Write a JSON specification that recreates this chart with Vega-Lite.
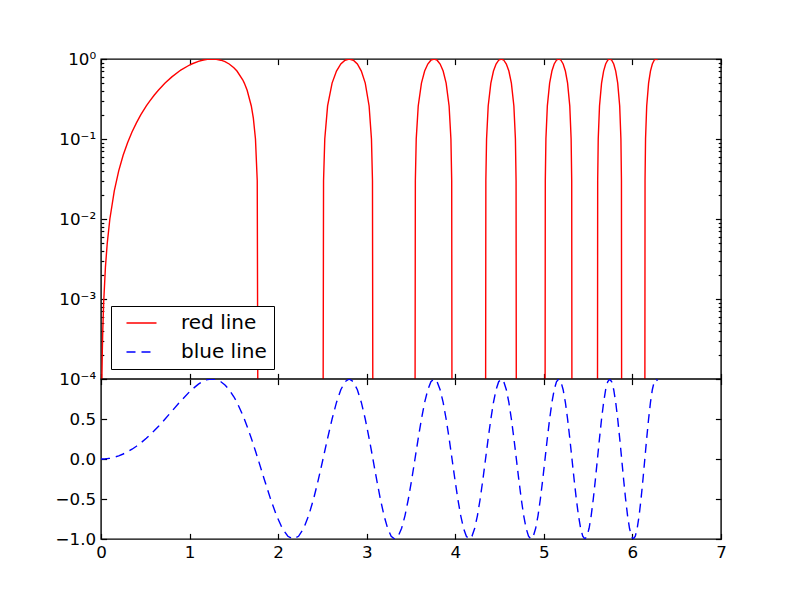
{
  "$schema": "https://vega.github.io/schema/vega-lite/v6.json",
  "background": "white",
  "padding": {"left": 54, "top": 50, "right": 10, "bottom": 10},
  "bounds": "flush",
  "spacing": 0,
  "config": {
    "view": {"stroke": "black", "strokeWidth": 1.4, "fill": "white"},
    "axis": {"domain": false, "grid": false, "tickColor": "black", "tickWidth": 1.2, "tickSize": -5.6, "labelFont": "DejaVu Sans", "labelFontSize": 16.7, "labelColor": "black", "labelPadding": 11, "labelOverlap": false, "labelFlush": false}
  },
  "datasets": {
    "w": [
      {"x": 0, "y": 0}, {"x": 0.005, "y": 0.000025}, {"x": 0.01, "y": 0.0001}, {"x": 0.015, "y": 0.000225}, {"x": 0.02, "y": 0.0004}, {"x": 0.03, "y": 0.0009}, {"x": 0.05, "y": 0.0025}, {"x": 0.07, "y": 0.0049}, {"x": 0.1, "y": 0.01}, {"x": 0.15, "y": 0.0225}, {"x": 0.2, "y": 0.04}, {"x": 0.25, "y": 0.0625}, {"x": 0.3, "y": 0.0899}, {"x": 0.35, "y": 0.1222}, {"x": 0.4, "y": 0.1593}, {"x": 0.45, "y": 0.2011},
      {"x": 0.5117, "y": 0.2588}, {"x": 0.55, "y": 0.2979}, {"x": 0.6, "y": 0.3523}, {"x": 0.65, "y": 0.4101}, {"x": 0.7, "y": 0.4706}, {"x": 0.7236, "y": 0.5}, {"x": 0.8, "y": 0.5972}, {"x": 0.8862, "y": 0.7071}, {"x": 0.9, "y": 0.7243}, {"x": 1.0, "y": 0.8415}, {"x": 1.0233, "y": 0.866}, {"x": 1.1, "y": 0.9356}, {"x": 1.1441, "y": 0.9659}, {"x": 1.2, "y": 0.9915}, {"x": 1.2533, "y": 1}, {"x": 1.3, "y": 0.9929}, {"x": 1.3537, "y": 0.9659}, {"x": 1.4, "y": 0.9252}, {"x": 1.4472, "y": 0.866}, {"x": 1.5, "y": 0.7781}, {"x": 1.535, "y": 0.7071}, {"x": 1.6, "y": 0.5494}, {"x": 1.618, "y": 0.5}, {"x": 1.65, "y": 0.4069}, {"x": 1.697, "y": 0.2588}, {"x": 1.72, "y": 0.1822}, {"x": 1.744, "y": 0.1}, {"x": 1.764, "y": 0.03}, {"x": 1.7725, "y": 0.00001},
      {"x": 1.8448, "y": -0.2588}, {"x": 1.9145, "y": -0.5}, {"x": 1.9817, "y": -0.7071}, {"x": 2.0467, "y": -0.866}, {"x": 2.1096, "y": -0.9659}, {"x": 2.1708, "y": -1}, {"x": 2.2303, "y": -0.9659}, {"x": 2.2882, "y": -0.866}, {"x": 2.3447, "y": -0.7071}, {"x": 2.3999, "y": -0.5}, {"x": 2.4538, "y": -0.2588},
      {"x": 2.5066, "y": 0.00001}, {"x": 2.5126, "y": 0.03}, {"x": 2.5265, "y": 0.1}, {"x": 2.5583, "y": 0.2588}, {"x": 2.609, "y": 0.5}, {"x": 2.6587, "y": 0.7071}, {"x": 2.7075, "y": 0.866}, {"x": 2.7554, "y": 0.9659}, {"x": 2.8025, "y": 1}, {"x": 2.8488, "y": 0.9659}, {"x": 2.8944, "y": 0.866}, {"x": 2.9393, "y": 0.7071}, {"x": 2.9835, "y": 0.5}, {"x": 3.027, "y": 0.2588}, {"x": 3.0536, "y": 0.1}, {"x": 3.0651, "y": 0.03}, {"x": 3.07, "y": 0.00001},
      {"x": 3.1123, "y": -0.2588}, {"x": 3.1541, "y": -0.5}, {"x": 3.1953, "y": -0.7071}, {"x": 3.236, "y": -0.866}, {"x": 3.2762, "y": -0.9659}, {"x": 3.316, "y": -1}, {"x": 3.3552, "y": -0.9659}, {"x": 3.394, "y": -0.866}, {"x": 3.4323, "y": -0.7071}, {"x": 3.4703, "y": -0.5}, {"x": 3.5078, "y": -0.2588},
      {"x": 3.5449, "y": 0.00001}, {"x": 3.5491, "y": 0.03}, {"x": 3.559, "y": 0.1}, {"x": 3.5816, "y": 0.2588}, {"x": 3.618, "y": 0.5}, {"x": 3.654, "y": 0.7071}, {"x": 3.6897, "y": 0.866}, {"x": 3.725, "y": 0.9659}, {"x": 3.76, "y": 1}, {"x": 3.7946, "y": 0.9659}, {"x": 3.8289, "y": 0.866}, {"x": 3.863, "y": 0.7071}, {"x": 3.8967, "y": 0.5}, {"x": 3.9302, "y": 0.2588}, {"x": 3.9507, "y": 0.1}, {"x": 3.9595, "y": 0.03}, {"x": 3.9633, "y": 0.00001},
      {"x": 3.9962, "y": -0.2588}, {"x": 4.0288, "y": -0.5}, {"x": 4.0612, "y": -0.7071}, {"x": 4.0933, "y": -0.866}, {"x": 4.1252, "y": -0.9659}, {"x": 4.1568, "y": -1}, {"x": 4.1881, "y": -0.9659}, {"x": 4.2193, "y": -0.866}, {"x": 4.2502, "y": -0.7071}, {"x": 4.2809, "y": -0.5}, {"x": 4.3113, "y": -0.2588},
      {"x": 4.3416, "y": 0.00001}, {"x": 4.3451, "y": 0.03}, {"x": 4.3531, "y": 0.1}, {"x": 4.3716, "y": 0.2588}, {"x": 4.4015, "y": 0.5}, {"x": 4.4311, "y": 0.7071}, {"x": 4.4605, "y": 0.866}, {"x": 4.4898, "y": 0.9659}, {"x": 4.5189, "y": 1}, {"x": 4.5477, "y": 0.9659}, {"x": 4.5764, "y": 0.866}, {"x": 4.605, "y": 0.7071}, {"x": 4.6333, "y": 0.5}, {"x": 4.6615, "y": 0.2588}, {"x": 4.6788, "y": 0.1}, {"x": 4.6863, "y": 0.03}, {"x": 4.6895, "y": 0.00001},
      {"x": 4.7173, "y": -0.2588}, {"x": 4.7449, "y": -0.5}, {"x": 4.7724, "y": -0.7071}, {"x": 4.7998, "y": -0.866}, {"x": 4.827, "y": -0.9659}, {"x": 4.854, "y": -1}, {"x": 4.8809, "y": -0.9659}, {"x": 4.9076, "y": -0.866}, {"x": 4.9342, "y": -0.7071}, {"x": 4.9607, "y": -0.5}, {"x": 4.987, "y": -0.2588},
      {"x": 5.0133, "y": 0.00001}, {"x": 5.0163, "y": 0.03}, {"x": 5.0232, "y": 0.1}, {"x": 5.0393, "y": 0.2588}, {"x": 5.0652, "y": 0.5}, {"x": 5.091, "y": 0.7071}, {"x": 5.1166, "y": 0.866}, {"x": 5.1422, "y": 0.9659}, {"x": 5.1675, "y": 1}, {"x": 5.1928, "y": 0.9659}, {"x": 5.2179, "y": 0.866}, {"x": 5.243, "y": 0.7071}, {"x": 5.2679, "y": 0.5}, {"x": 5.2927, "y": 0.2588}, {"x": 5.3079, "y": 0.1}, {"x": 5.3145, "y": 0.03}, {"x": 5.3174, "y": 0.00001},
      {"x": 5.3419, "y": -0.2588}, {"x": 5.3664, "y": -0.5}, {"x": 5.3907, "y": -0.7071}, {"x": 5.415, "y": -0.866}, {"x": 5.4391, "y": -0.9659}, {"x": 5.4631, "y": -1}, {"x": 5.487, "y": -0.9659}, {"x": 5.5108, "y": -0.866}, {"x": 5.5345, "y": -0.7071}, {"x": 5.5581, "y": -0.5}, {"x": 5.5816, "y": -0.2588},
      {"x": 5.605, "y": 0.00001}, {"x": 5.6077, "y": 0.03}, {"x": 5.6139, "y": 0.1}, {"x": 5.6283, "y": 0.2588}, {"x": 5.6515, "y": 0.5}, {"x": 5.6746, "y": 0.7071}, {"x": 5.6976, "y": 0.866}, {"x": 5.7206, "y": 0.9659}, {"x": 5.7434, "y": 1}, {"x": 5.7662, "y": 0.9659}, {"x": 5.7888, "y": 0.866}, {"x": 5.8114, "y": 0.7071}, {"x": 5.8338, "y": 0.5}, {"x": 5.8562, "y": 0.2588}, {"x": 5.87, "y": 0.1}, {"x": 5.876, "y": 0.03}, {"x": 5.8786, "y": 0.00001},
      {"x": 5.9008, "y": -0.2588}, {"x": 5.9229, "y": -0.5}, {"x": 5.945, "y": -0.7071}, {"x": 5.9669, "y": -0.866}, {"x": 5.9888, "y": -0.9659}, {"x": 6.0107, "y": -1}, {"x": 6.0324, "y": -0.9659}, {"x": 6.0541, "y": -0.866}, {"x": 6.0756, "y": -0.7071}, {"x": 6.0972, "y": -0.5}, {"x": 6.1186, "y": -0.2588},
      {"x": 6.14, "y": 0.00001}, {"x": 6.1424, "y": 0.03}, {"x": 6.1481, "y": 0.1}, {"x": 6.1612, "y": 0.2588}, {"x": 6.1825, "y": 0.5}, {"x": 6.2036, "y": 0.7071}, {"x": 6.2247, "y": 0.866}, {"x": 6.2456, "y": 0.9659}, {"x": 6.2666, "y": 1}, {"x": 6.2832, "y": 0.978}
    ]
  },
  "vconcat": [
    {
      "width": 620,
      "height": 320,
      "data": {"name": "w"},
      "transform": [{"filter": "datum.y > 0"}],
      "layer": [
        {
          "mark": {"type": "line", "color": "#ff0000", "strokeWidth": 1.4, "clip": true},
          "encoding": {
            "x": {"field": "x", "type": "quantitative", "scale": {"domain": [0, 7], "nice": false}, "axis": {"orient": "bottom", "title": null, "values": [0, 1, 2, 3, 4, 5, 6, 7], "labels": false}},
            "y": {"field": "y", "type": "quantitative", "scale": {"type": "log", "domain": [0.0001, 1], "nice": false}, "axis": {"orient": "left", "title": null, "values": [0.0001, 0.001, 0.01, 0.1, 1], "labelExpr": "datum.value < 0.0005 ? '10⁻⁴' : datum.value < 0.005 ? '10⁻³' : datum.value < 0.05 ? '10⁻²' : datum.value < 0.5 ? '10⁻¹' : '10⁰'"}},
            "color": {
              "datum": "red line",
              "type": "nominal",
              "scale": {"domain": ["red line", "blue line"], "range": ["#ff0000", "#0000ff"]},
              "legend": {
                "orient": "none", "legendX": 10, "legendY": 247, "title": null,
                "symbolType": "M-2,0H2", "symbolSize": 225, "symbolStrokeWidth": 1.4, "symbolOffset": 13.5,
                "labelFont": "DejaVu Sans", "labelFontSize": 20, "labelColor": "black", "labelOffset": 29.5,
                "padding": 7, "rowPadding": 9, "strokeColor": "black", "fillColor": "white", "cornerRadius": 0,
                "encode": {"symbols": {"update": {"strokeDash": {"signal": "datum.value === 'blue line' ? [9, 6] : [1, 0]"}, "fill": {"value": "transparent"}}}}
              }
            }
          }
        },
        {
          "mark": {"type": "point", "opacity": 0},
          "encoding": {
            "x": {"field": "x", "type": "quantitative", "scale": {"domain": [0, 7], "nice": false}, "axis": {"orient": "top", "title": null, "values": [0, 1, 2, 3, 4, 5, 6, 7], "labels": false}},
            "y": {"field": "y", "type": "quantitative", "scale": {"type": "log", "domain": [0.0001, 1], "nice": false}, "axis": {"orient": "right", "title": null, "values": [0.0001, 0.001, 0.01, 0.1, 1], "labels": false}}
          }
        },
        {
          "mark": {"type": "point", "opacity": 0},
          "encoding": {
            "x": {"field": "x", "type": "quantitative", "scale": {"domain": [0, 7], "nice": false}, "axis": null},
            "y": {"field": "y", "type": "quantitative", "scale": {"type": "log", "domain": [0.0001, 1], "nice": false}, "axis": {"orient": "left", "title": null, "tickSize": -2.8, "labels": false, "values": [0.0002, 0.0003, 0.0004, 0.0005, 0.0006, 0.0007, 0.0008, 0.0009, 0.002, 0.003, 0.004, 0.005, 0.006, 0.007, 0.008, 0.009, 0.02, 0.03, 0.04, 0.05, 0.06, 0.07, 0.08, 0.09, 0.2, 0.3, 0.4, 0.5, 0.6, 0.7, 0.8, 0.9]}}
          }
        },
        {
          "mark": {"type": "point", "opacity": 0},
          "encoding": {
            "x": {"field": "x", "type": "quantitative", "scale": {"domain": [0, 7], "nice": false}, "axis": null},
            "y": {"field": "y", "type": "quantitative", "scale": {"type": "log", "domain": [0.0001, 1], "nice": false}, "axis": {"orient": "right", "title": null, "tickSize": -2.8, "labels": false, "values": [0.0002, 0.0003, 0.0004, 0.0005, 0.0006, 0.0007, 0.0008, 0.0009, 0.002, 0.003, 0.004, 0.005, 0.006, 0.007, 0.008, 0.009, 0.02, 0.03, 0.04, 0.05, 0.06, 0.07, 0.08, 0.09, 0.2, 0.3, 0.4, 0.5, 0.6, 0.7, 0.8, 0.9]}}
          }
        }
      ],
      "resolve": {"axis": {"x": "independent", "y": "independent"}}
    },
    {
      "width": 620,
      "height": 160,
      "data": {"name": "w"},
      "layer": [
        {
          "mark": {"type": "line", "color": "#0000ff", "strokeWidth": 1.4, "strokeDash": [9, 6], "clip": true},
          "encoding": {
            "x": {"field": "x", "type": "quantitative", "scale": {"domain": [0, 7], "nice": false}, "axis": {"orient": "bottom", "title": null, "values": [0, 1, 2, 3, 4, 5, 6, 7], "format": "d"}},
            "y": {"field": "y", "type": "quantitative", "scale": {"domain": [-1, 1], "nice": false}, "axis": {"orient": "left", "title": null, "values": [-1, -0.5, 0, 0.5, 1], "format": ".1f", "labelExpr": "datum.value > 0.9 ? '' : datum.label"}},
            "color": {"datum": "blue line", "type": "nominal"}
          }
        },
        {
          "mark": {"type": "point", "opacity": 0},
          "encoding": {
            "x": {"field": "x", "type": "quantitative", "scale": {"domain": [0, 7], "nice": false}, "axis": {"orient": "top", "title": null, "values": [0, 1, 2, 3, 4, 5, 6, 7], "labels": false}},
            "y": {"field": "y", "type": "quantitative", "scale": {"domain": [-1, 1], "nice": false}, "axis": {"orient": "right", "title": null, "values": [-1, -0.5, 0, 0.5, 1], "labels": false}}
          }
        }
      ],
      "resolve": {"axis": {"x": "independent", "y": "independent"}}
    }
  ],
  "resolve": {"scale": {"color": "shared"}, "legend": {"color": "shared"}}
}
